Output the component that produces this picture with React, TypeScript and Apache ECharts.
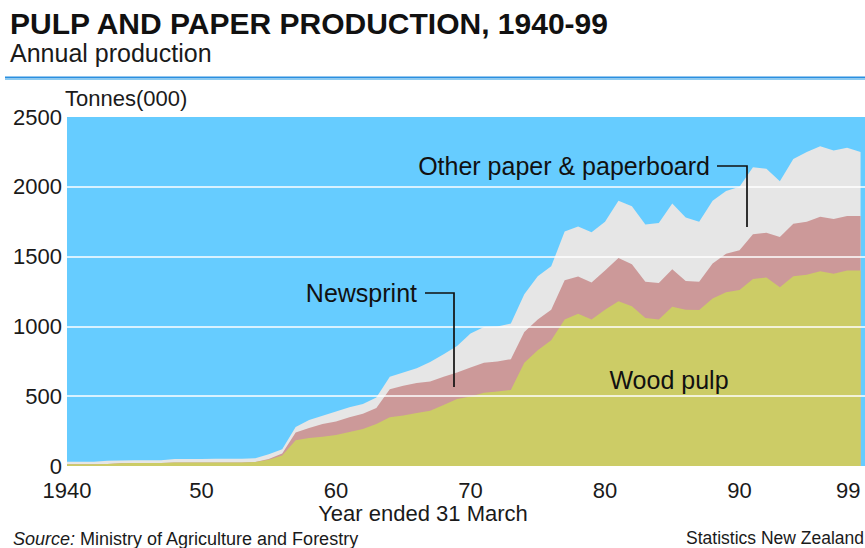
import React, { useEffect, useRef } from "react";
import * as echarts from "echarts";

const years = [
  1940, 1941, 1942, 1943, 1944, 1945, 1946, 1947, 1948, 1949,
  1950, 1951, 1952, 1953, 1954, 1955, 1956, 1957, 1958, 1959,
  1960, 1961, 1962, 1963, 1964, 1965, 1966, 1967, 1968, 1969,
  1970, 1971, 1972, 1973, 1974, 1975, 1976, 1977, 1978, 1979,
  1980, 1981, 1982, 1983, 1984, 1985, 1986, 1987, 1988, 1989,
  1990, 1991, 1992, 1993, 1994, 1995, 1996, 1997, 1998, 1999,
];

// Tonnes (000)
const woodPulp = [
  12, 12, 12, 15, 20, 22, 22, 22, 25, 25,
  25, 25, 25, 25, 28, 45, 75, 185, 200, 210,
  222, 243, 265, 300, 350, 362, 380, 395, 437, 480,
  497, 525, 533, 545, 740, 830, 900, 1050, 1090, 1050,
  1120, 1180, 1145, 1060, 1050, 1140, 1120, 1118, 1200, 1245,
  1260, 1340, 1350, 1280, 1360, 1370, 1395, 1378, 1400, 1400,
];

const newsprint = [
  0, 0, 0, 0, 0, 0, 0, 0, 0, 0,
  0, 0, 0, 0, 0, 5, 15, 55, 72, 90,
  96, 107, 110, 115, 200, 213, 215, 210, 203, 190,
  208, 215, 215, 220, 220, 220, 220, 280, 267, 265,
  280, 310, 300, 260, 260, 270, 205, 202, 250, 275,
  285, 320, 320, 360, 375, 380, 390, 392, 390, 390,
];

const otherPaper = [
  18, 18, 18, 23, 20, 20, 20, 20, 25, 25,
  25, 27, 27, 27, 27, 35, 30, 40, 58, 60,
  72, 70, 70, 75, 90, 95, 105, 140, 160, 190,
  245, 255, 252, 255, 270, 310, 310, 350, 359, 360,
  350, 410, 415, 410, 430, 470, 455, 430, 450, 450,
  455, 480, 460, 400, 465, 500, 505, 490, 490, 460,
];

const gridValues = [500, 1000, 1500, 2000];
const xLabelYears = [1940, 1950, 1960, 1970, 1980, 1990, 1999];

const FONT = '"Liberation Sans", Arial, Helvetica, sans-serif';
const INK = "#1a1a1a";

// Cumulative tops of the stacked layers (drawn back to front, each filled to zero)
const pulpTop = woodPulp.map((v) => v);
const newsTop = woodPulp.map((v, i) => v + newsprint[i]);
const otherTop = woodPulp.map((v, i) => v + newsprint[i] + otherPaper[i]);

function areaSeries(name: string, values: number[], color: string, z: number, extra: any = {}) {
  return {
    name,
    type: "line",
    data: years.map((y, i) => [y, values[i]]),
    symbol: "none",
    showSymbol: false,
    silent: true,
    z,
    lineStyle: { width: 0, opacity: 0 },
    itemStyle: { color },
    areaStyle: { color, opacity: 1 },
    emphasis: { disabled: true },
    ...extra,
  };
}

export default function App() {
  const ref = useRef<HTMLDivElement>(null);

  useEffect(() => {
    if (!ref.current) return;
    const chart = echarts.init(ref.current, undefined, { renderer: "svg" });

    const option: any = {
      animation: false,
      backgroundColor: "#ffffff",
      textStyle: { fontFamily: FONT },
      grid: {
        left: 67,
        right: 0,
        top: 117,
        bottom: 82,
        show: true,
        backgroundColor: "#66CCFF",
        borderWidth: 0,
        containLabel: false,
        outerBoundsMode: "none",
      },
      xAxis: {
        type: "value",
        min: 1940,
        max: 1999.33,
        axisLine: { show: false },
        axisTick: { show: false },
        splitLine: { show: false },
        axisLabel: {
          customValues: xLabelYears,
          formatter: (v: number) => (v === 1940 ? "1940" : String(v % 100).padStart(2, "0")),
          fontSize: 22,
          fontFamily: FONT,
          color: INK,
          margin: 13,
          alignMaxLabel: "right",
        },
      },
      yAxis: {
        type: "value",
        min: 0,
        max: 2500,
        interval: 500,
        axisLine: { show: false },
        axisTick: { show: false },
        splitLine: { show: false },
        axisLabel: {
          fontSize: 22,
          fontFamily: FONT,
          color: INK,
          margin: 5,
          formatter: (v: number) => String(v),
        },
      },
      series: [
        areaSeries("Other paper & paperboard", otherTop, "#E6E6E6", 2),
        areaSeries("Newsprint", newsTop, "#CC9999", 3),
        areaSeries("Wood pulp", pulpTop, "#CCCC66", 4, {
          markLine: {
            silent: true,
            symbol: ["none", "none"],
            label: { show: false },
            z: 10,
            lineStyle: { color: "#ffffff", width: 1.5, type: "solid", opacity: 1 },
            emphasis: { disabled: true },
            data: gridValues.map((v) => ({ yAxis: v })),
          },
        }),
      ],
      graphic: [
        {
          type: "text",
          x: 10,
          y: 23,
          style: {
            text: "PULP AND PAPER PRODUCTION, 1940-99",
            fontFamily: FONT,
            fontSize: 30,
            fontWeight: "bold",
            fill: "#111",
            align: "left",
            verticalAlign: "middle",
          },
        },
        {
          type: "text",
          x: 10,
          y: 53,
          style: {
            text: "Annual production",
            fontFamily: FONT,
            fontSize: 25,
            fill: INK,
            align: "left",
            verticalAlign: "middle",
          },
        },
        { type: "rect", shape: { x: 5, y: 76.5, width: 860, height: 2 }, style: { fill: "#2A8FE0" } },
        { type: "rect", shape: { x: 5, y: 78.5, width: 860, height: 1.5 }, style: { fill: "#8CCBF2" } },
        {
          type: "text",
          x: 65,
          y: 98,
          style: {
            text: "Tonnes(000)",
            fontFamily: FONT,
            fontSize: 22,
            fill: INK,
            align: "left",
            verticalAlign: "middle",
          },
        },
        {
          type: "text",
          x: 710,
          y: 166,
          z: 20,
          style: {
            text: "Other paper & paperboard",
            fontFamily: FONT,
            fontSize: 25,
            fill: "#111",
            align: "right",
            verticalAlign: "middle",
          },
        },
        {
          type: "polyline",
          z: 20,
          shape: { points: [[717, 166], [747, 166], [747, 227]] },
          style: { stroke: "#111", lineWidth: 1.7, fill: "none" },
        },
        {
          type: "text",
          x: 417,
          y: 293,
          z: 20,
          style: {
            text: "Newsprint",
            fontFamily: FONT,
            fontSize: 25,
            fill: "#111",
            align: "right",
            verticalAlign: "middle",
          },
        },
        {
          type: "polyline",
          z: 20,
          shape: { points: [[425, 293], [454, 293], [454, 387]] },
          style: { stroke: "#111", lineWidth: 1.7, fill: "none" },
        },
        {
          type: "text",
          x: 669,
          y: 380,
          z: 20,
          style: {
            text: "Wood pulp",
            fontFamily: FONT,
            fontSize: 25,
            fill: "#111",
            align: "center",
            verticalAlign: "middle",
          },
        },
        {
          type: "text",
          x: 423,
          y: 513,
          style: {
            text: "Year ended 31 March",
            fontFamily: FONT,
            fontSize: 22,
            fill: INK,
            align: "center",
            verticalAlign: "middle",
          },
        },
        {
          type: "text",
          x: 13,
          y: 539,
          style: {
            text: "{i|Source:} Ministry of Agriculture and Forestry",
            fontFamily: FONT,
            fontSize: 18,
            fill: INK,
            align: "left",
            verticalAlign: "middle",
            rich: {
              i: { fontStyle: "italic", fontFamily: FONT, fontSize: 18, fill: INK },
            },
          },
        },
        {
          type: "text",
          x: 864,
          y: 538,
          style: {
            text: "Statistics New Zealand",
            fontFamily: FONT,
            fontSize: 17.5,
            fill: INK,
            align: "right",
            verticalAlign: "middle",
          },
        },
      ],
    };

    chart.setOption(option);
    return () => {
      chart.dispose();
    };
  }, []);

  return (
    <div
      ref={ref}
      style={{ position: "fixed", left: 0, top: 0, width: 865, height: 548 }}
    />
  );
}
